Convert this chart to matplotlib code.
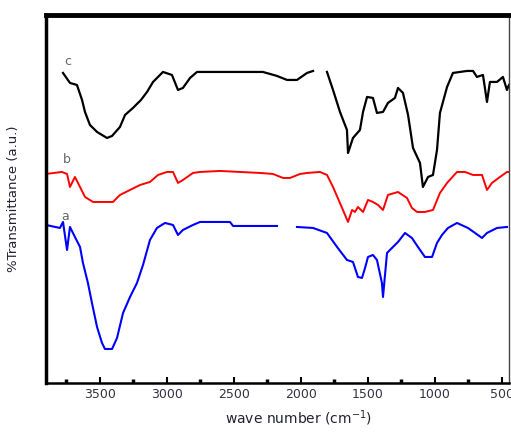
import numpy as np
import matplotlib
matplotlib.use("Agg")
import matplotlib.pyplot as plt
from matplotlib.ticker import MultipleLocator

# FTIR spectra (wavenumber in cm-1, transmittance in a.u.)
wave_c = [3776, 3724, 3672, 3634, 3612, 3575, 3522, 3448, 3410, 3351, 3313,
          3254, 3194, 3149, 3104, 3030, 2963, 2918, 2881, 2828, 2776, 2731,
          2284, 2179, 2104, 2030, 1955, 1910, np.nan, 1806, 1761, 1709, 1657,
          1649, 1612, 1560, 1537, 1507, 1463, 1433, 1388, 1351, 1299, 1276,
          1239, 1201, 1164, 1112, 1090, 1052, 1015, 985, 963, 910, 866, 761,
          716, 687, 642, 612, 590, 537, 493, 463, 448]
trans_c = [310, 300, 298, 283, 271, 258, 251, 245, 247, 256, 268,
           275, 283, 291, 301, 311, 308, 293, 295, 305, 311, 311,
           311, 307, 303, 303, 310, 312, np.nan, 311, 293, 271, 253,
           230, 245, 253, 271, 286, 285, 270, 271, 280, 285, 295,
           290, 268, 235, 220, 196, 206, 208, 233, 270, 296, 310, 312,
           312, 306, 308, 281, 301, 301, 306, 293, 298]

wave_b = [3903, 3784, 3746, 3724, 3687, 3649, 3612, 3552, 3403, 3351, 3276,
          3201, 3127, 3067, 3000, 2955, 2918, 2881, 2806, 2754, 2604, 2306,
          2209, 2134, 2082, 2007, 1955, 1858, 1806, 1761, 1687, 1649, 1619,
          1597, 1575, 1537, 1500, 1463, 1425, 1388, 1351, 1276, 1209, 1172,
          1134, 1075, 1015, 963, 910, 836, 776, 716, 649, 612, 575, 515, 463,
          448]
trans_b = [209, 211, 209, 196, 206, 196, 186, 181, 181, 188, 193,
           198, 201, 208, 211, 211, 200, 203, 210, 211, 212, 210,
           209, 205, 205, 209, 210, 211, 208, 196, 173, 161, 173,
           171, 176, 171, 183, 181, 178, 173, 188, 191, 185, 175,
           171, 171, 173, 190, 200, 211, 211, 208, 208, 193, 200, 206, 211,
           211]

wave_a = [3903, 3799, 3776, 3746, 3724, 3687, 3649, 3627, 3590, 3560, 3522,
          3485, 3463, 3410, 3373, 3328, 3276, 3224, 3179, 3127, 3075, 3015,
          2955, 2918, 2881, 2806, 2754, 2530, 2507, 2179, np.nan, 2030, 1910,
          1806, 1731, 1657, 1612, 1575, 1545, 1522, 1500, 1463, 1433, 1396,
          1388, 1358, 1336, 1276, 1224, 1172, 1127, 1075, 1022, 985, 948,
          903, 836, 754, 701, 649, 612, 537, 463]
trans_a = [158, 155, 161, 133, 156, 146, 136, 120, 100, 80, 56,
           40, 34, 34, 45, 70, 86, 100, 118, 143, 155, 160,
           158, 148, 153, 158, 161, 161, 157, 157, np.nan, 156, 155,
           150, 136, 123, 121, 106, 105, 115, 126, 128, 123, 100,
           86, 130, 133, 141, 150, 145, 136, 126, 126, 140, 148,
           155, 160, 155, 150, 145, 150, 155, 156]

major_ticks = [3500, 3000, 2500, 2000, 1500, 1000, 500]

# FIGURE
fig = plt.figure(figsize=(5.11, 4.33), dpi=100)
ax = fig.add_axes([0.090, 0.1155, 0.906, 0.85])

ax.plot(wave_c, trans_c, color="black", lw=1.6)
ax.plot(wave_b, trans_b, color="red", lw=1.4)
ax.plot(wave_a, trans_a, color="blue", lw=1.5)

# CURVE LABELS
ax.text(3770, 318, "c", color="#666666", fontsize=9)
ax.text(3780, 220, "b", color="#666666", fontsize=9)
ax.text(3790, 163, "a", color="#666666", fontsize=9)

ax.set_xlim(3903, 448)
ax.set_ylim(0, 368)

ax.xaxis.set_minor_locator(MultipleLocator(250))
ax.set_xticks(major_ticks)
ax.set_xticklabels([str(t) for t in major_ticks], fontsize=9, color="#333344")
ax.set_yticks([])
ax.tick_params(axis="x", which="major", direction="in", length=4, width=1.5)
ax.tick_params(axis="x", which="minor", direction="in", length=3, width=2.5)

ax.spines["left"].set_linewidth(2.5)
ax.spines["top"].set_linewidth(3.5)
ax.spines["bottom"].set_linewidth(1.8)
ax.spines["right"].set_linewidth(1.0)
ax.spines["right"].set_color("#444444")

ax.set_xlabel("wave number (cm$^{-1}$)", fontsize=10, color="#222233")
ax.xaxis.set_label_coords(0.546, -0.068)
ax.set_ylabel("%Transmittance (a.u.)", fontsize=9.5, color="#222233")
ax.yaxis.set_label_coords(-0.056, 0.5)

fig.savefig("out.png", dpi=100)
